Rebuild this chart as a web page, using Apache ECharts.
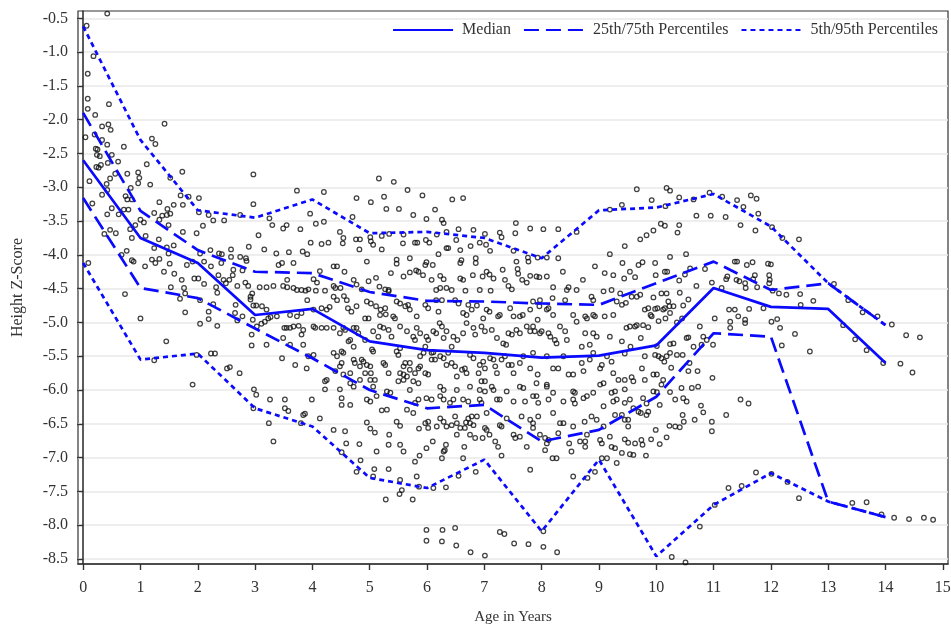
<!DOCTYPE html>
<html>
<head>
<meta charset="utf-8">
<script src="https://cdn.jsdelivr.net/npm/echarts@6/dist/echarts.min.js"></script>
<style>
html, body { margin: 0; padding: 0; background: #fff; }
#chart { width: 951px; height: 626px; }
</style>
</head>
<body>
<div id="chart"></div>
<script>
// percentile curves, one value per whole year of age
const ages = [0, 1, 2, 3, 4, 5, 6, 7, 8, 9, 10, 11, 12, 13, 14];
const median = [-2.60, -3.75, -4.12, -4.89, -4.80, -5.28, -5.41, -5.45, -5.52, -5.49, -5.34, -4.49, -4.77, -4.80, -5.60];
const p75 = [-1.90, -3.35, -3.93, -4.25, -4.27, -4.55, -4.68, -4.69, -4.72, -4.74, -4.42, -4.10, -4.52, -4.42, -5.04];
const p25 = [-3.16, -4.49, -4.64, -5.09, -5.53, -6.00, -6.27, -6.22, -6.76, -6.59, -6.10, -5.16, -5.21, -7.65, -7.88];
const p95 = [-0.62, -2.30, -3.34, -3.45, -3.18, -3.68, -3.66, -3.75, -4.05, -3.34, -3.30, -3.10, -3.58, -4.42, -5.04];
const p5 = [-4.12, -5.55, -5.46, -6.27, -6.54, -7.30, -7.45, -7.03, -8.09, -7.03, -8.46, -7.70, -7.23, -7.65, -7.88];

const xTicks = [0, 1, 2, 3, 4, 5, 6, 7, 8, 9, 10, 11, 12, 13, 14, 15];
const yTicks = [-8.5, -8.0, -7.5, -7.0, -6.5, -6.0, -5.5, -5.0, -4.5, -4.0, -3.5, -3.0, -2.5, -2.0, -1.5, -1.0, -0.5];

// individual children [age, z-score]
const pts0to2 = [
  [0.42,-0.43],[0.06,-0.61],[0.18,-1.06],[0.08,-1.32],[0.08,-1.69],[0.08,-1.84],[0.21,-1.93],[0.45,-1.77],
  [0.33,-2.10],[0.44,-2.07],[0.48,-2.15],[0.04,-2.26],[0.20,-2.22],[0.33,-2.30],[0.42,-2.37],[0.22,-2.43],
  [0.25,-2.44],[0.24,-2.52],[0.29,-2.54],[0.50,-2.52],[0.71,-2.40],[1.20,-2.28],[1.26,-2.36],[1.42,-2.06],
  [0.23,-2.70],[0.27,-2.71],[0.31,-2.67],[0.43,-2.64],[0.61,-2.62],[1.11,-2.66],[1.73,-2.77],[0.11,-2.91],
  [0.41,-2.95],[0.47,-2.87],[0.56,-2.80],[0.77,-2.80],[0.96,-2.78],[0.98,-2.86],[0.96,-2.94],[1.17,-2.96],
  [0.33,-3.11],[0.42,-3.04],[0.83,-3.01],[0.74,-3.13],[0.77,-3.18],[0.85,-3.18],[1.33,-3.22],[1.47,-3.32],
  [1.58,-3.26],[1.74,-3.26],[1.84,-3.14],[1.52,-2.86],[1.70,-3.12],[0.16,-3.24],[0.50,-3.31],[0.71,-3.33],
  [0.79,-3.33],[0.42,-3.40],[0.62,-3.40],[0.82,-3.62],[0.91,-3.56],[0.85,-3.75],[0.37,-3.69],[0.47,-3.63],
  [0.57,-3.68],[1.00,-3.48],[1.06,-3.52],[1.09,-3.72],[1.24,-3.38],[1.33,-3.48],[1.38,-3.42],[1.46,-3.41],
  [1.52,-3.39],[1.49,-3.56],[1.74,-3.66],[1.98,-3.68],[0.76,-3.94],[0.67,-4.00],[0.85,-4.08],[0.88,-4.10],
  [1.08,-4.17],[1.20,-4.07],[1.26,-4.12],[1.33,-4.06],[1.24,-3.90],[1.32,-3.77],[1.46,-3.89],[1.58,-3.86],
  [1.49,-3.98],[1.51,-4.13],[1.41,-4.25],[1.59,-4.28],[1.53,-4.48],[1.72,-4.37],[1.76,-4.49],[1.78,-4.57],
  [1.69,-4.65],[1.78,-4.85],[1.94,-4.35],[1.81,-4.15],[1.91,-4.10],[0.73,-4.58],[1.00,-4.94],[1.45,-5.28],
  [1.24,-5.56],[1.98,-5.48],[1.91,-5.92],[0.09,-4.12]
];
const pts2to4 = [
  [2.02,-3.16],[2.97,-3.25],[3.73,-3.05],[2.97,-2.81],[2.09,-3.57],[2.02,-3.37],[2.19,-3.41],[2.27,-3.49],
  [2.46,-3.49],[2.74,-3.41],[3.06,-3.71],[3.25,-3.46],[3.30,-3.56],[3.49,-3.61],[3.55,-3.56],[2.89,-3.88],
  [3.16,-3.92],[3.37,-3.98],[3.59,-3.96],[2.01,-4.35],[2.04,-3.98],[2.11,-4.10],[2.22,-3.93],[2.23,-4.17],
  [2.37,-3.98],[2.42,-3.99],[2.41,-4.12],[2.36,-4.30],[2.45,-4.37],[2.49,-4.42],[2.32,-4.48],[2.11,-4.43],
  [2.34,-4.56],[2.04,-4.67],[2.19,-4.84],[2.19,-4.95],[2.34,-5.05],[2.04,-5.02],[2.27,-4.73],[2.55,-4.37],
  [2.58,-3.92],[2.58,-4.03],[2.62,-4.22],[2.61,-4.30],[2.69,-4.46],[2.66,-4.74],[2.65,-4.86],[2.78,-4.91],
  [2.69,-4.97],[2.74,-4.03],[2.84,-4.05],[2.85,-4.09],[2.78,-4.23],[2.83,-4.41],[2.88,-4.46],[2.95,-4.57],
  [2.92,-4.62],[2.97,-4.75],[3.02,-4.75],[3.12,-4.76],[2.92,-4.66],[2.96,-4.96],[3.03,-5.06],[3.11,-5.02],
  [3.17,-4.99],[3.23,-4.94],[3.27,-4.92],[3.38,-4.91],[3.20,-4.81],[2.94,-5.18],[2.94,-5.34],[3.20,-5.33],
  [3.32,-4.46],[3.20,-4.48],[3.08,-4.48],[3.49,-4.46],[3.56,-4.48],[3.67,-4.49],[3.73,-4.52],[3.47,-4.12],
  [3.67,-4.12],[3.41,-4.15],[3.56,-4.37],[3.61,-4.89],[3.73,-4.91],[3.51,-5.08],[3.55,-5.08],[3.61,-5.08],
  [3.67,-5.06],[3.76,-5.05],[3.49,-5.23],[3.61,-5.33],[3.70,-5.63],[3.47,-5.53],[2.23,-5.46],[2.30,-5.46],
  [2.51,-5.68],[2.56,-5.66],[2.73,-5.75],[2.98,-5.99],[3.02,-6.07],[3.26,-6.14],[3.52,-6.14],[2.97,-6.27],
  [3.52,-6.27],[3.24,-6.49],[3.32,-6.76],[3.80,-6.49],[3.58,-6.31],
  [3.96,-3.39],[4.06,-3.54],[4.20,-3.51],[3.79,-3.62],[3.83,-3.95],[3.91,-3.99],[3.97,-3.82],[4.13,-4.24],
  [4.02,-4.36],[4.08,-4.41],[3.93,-4.51],[3.88,-4.53],[3.81,-4.52],[3.91,-4.67],[3.81,-4.86],[4.02,-4.81],
  [4.02,-5.06],[4.05,-5.08],[3.84,-5.11],[3.81,-5.18],[3.84,-5.33],[3.93,-5.50],[4.02,-5.48],[3.90,-5.68],
  [3.99,-6.14],[3.84,-6.37],[3.87,-6.35],[4.20,-3.07]
];
const pts4to6 = [
  [5.16,-2.87],[5.42,-2.92],[4.77,-3.16],[5.02,-3.22],[5.25,-3.14],[5.66,-3.04],[5.92,-3.12],[5.29,-3.32],
  [5.51,-3.32],[5.76,-3.41],[5.99,-3.47],[4.70,-3.44],[4.48,-3.66],[4.54,-3.75],[4.53,-3.83],[4.76,-3.77],
  [4.83,-3.77],[5.01,-3.74],[5.02,-3.80],[5.21,-3.72],[5.34,-3.69],[5.59,-3.70],[5.79,-3.82],[5.83,-3.82],
  [5.98,-3.78],[4.16,-3.84],[4.28,-3.82],[4.82,-3.92],[4.95,-4.10],[5.21,-3.92],[5.06,-3.85],[5.47,-4.07],
  [5.47,-4.13],[5.58,-3.83],[5.70,-4.05],[5.99,-4.11],[5.97,-4.15],[4.37,-4.17],[4.43,-4.17],[4.56,-4.25],
  [4.06,-4.53],[4.22,-4.53],[4.37,-4.46],[4.40,-4.49],[4.49,-4.49],[4.72,-4.37],[4.77,-4.44],[4.86,-4.51],
  [4.98,-4.39],[5.11,-4.34],[5.27,-4.51],[5.33,-4.52],[5.17,-4.47],[5.37,-4.27],[5.59,-4.32],[5.70,-4.26],
  [5.81,-4.23],[5.85,-4.25],[5.93,-4.30],[4.16,-4.79],[4.25,-4.81],[4.30,-4.77],[4.37,-4.62],[4.43,-4.67],
  [4.55,-4.61],[4.60,-4.67],[4.62,-4.79],[4.68,-4.84],[4.77,-4.76],[4.92,-4.94],[4.98,-4.94],[4.95,-4.69],
  [5.02,-4.72],[5.19,-4.81],[5.27,-4.79],[5.18,-4.89],[5.28,-4.88],[5.11,-4.76],[5.33,-4.54],[5.47,-4.69],
  [5.53,-4.72],[5.62,-4.76],[5.67,-4.74],[5.41,-4.91],[5.44,-4.94],[5.70,-4.81],[5.82,-4.91],[5.97,-4.74],
  [5.99,-5.21],[5.97,-5.36],[5.88,-5.16],[5.82,-5.08],[5.76,-5.21],[5.79,-5.26],[5.65,-5.13],[5.53,-5.06],
  [5.38,-5.21],[5.33,-5.11],[5.18,-5.06],[5.24,-5.08],[5.15,-5.21],[5.06,-5.13],[5.04,-5.40],[5.06,-5.43],
  [4.92,-5.26],[4.80,-5.16],[4.72,-5.08],[4.77,-5.08],[4.66,-5.26],[4.63,-5.28],[4.54,-5.08],[4.57,-5.11],
  [4.48,-5.16],[4.37,-5.08],[4.25,-5.08],[4.16,-5.08],[4.22,-5.87],[4.25,-5.85],[4.22,-5.99],[4.37,-5.45],
  [4.43,-5.50],[4.51,-5.43],[4.54,-5.45],[4.40,-5.72],[4.51,-5.60],[4.48,-5.65],[4.54,-5.77],[4.66,-5.75],
  [4.72,-5.55],[4.74,-5.60],[4.72,-5.36],[4.86,-5.55],[4.89,-5.58],[4.83,-5.65],[4.95,-5.63],[5.01,-5.65],
  [4.92,-5.75],[5.02,-5.75],[5.09,-5.85],[5.24,-5.60],[5.27,-5.63],[5.33,-5.75],[5.47,-5.43],[5.50,-5.48],
  [5.53,-5.38],[5.59,-5.65],[5.62,-5.60],[5.53,-5.75],[5.59,-5.77],[5.65,-5.80],[5.70,-5.60],[5.70,-5.70],
  [5.85,-5.68],[5.88,-5.65],[5.79,-5.75],[5.76,-5.87],[5.85,-5.90],[5.97,-5.75],[5.88,-5.50],[5.94,-5.45],
  [5.01,-5.85],[5.06,-5.95],[4.83,-5.85],[4.66,-5.90],[4.72,-5.95],[4.48,-5.99],[4.51,-6.12],[4.51,-6.22],
  [4.66,-6.22],[4.95,-6.14],[5.01,-6.17],[5.12,-6.09],[5.30,-6.02],[5.36,-6.04],[5.50,-5.87],[5.59,-5.85],
  [5.70,-6.00],[5.85,-6.14],[5.79,-6.19],[5.99,-6.12],
  [4.13,-6.42],[4.37,-6.59],[4.57,-6.61],[4.59,-6.79],[4.51,-6.92],[4.82,-6.80],[4.84,-7.04],[4.77,-7.21],
  [4.95,-6.48],[5.01,-6.57],[5.09,-6.63],[5.12,-6.91],[5.08,-7.17],[5.06,-7.28],[5.21,-6.30],[5.30,-6.29],
  [5.34,-6.66],[5.33,-6.81],[5.33,-7.17],[5.28,-7.62],[5.47,-6.47],[5.53,-6.53],[5.53,-6.81],[5.59,-6.91],
  [5.53,-7.33],[5.56,-7.48],[5.52,-7.54],[5.75,-7.62],[5.79,-7.06],[5.82,-7.28],[5.87,-6.97],[5.86,-7.43],
  [5.65,-6.29],[5.76,-6.34],[5.86,-6.57],[5.97,-6.49],[5.99,-6.86],[5.99,-8.07],[5.99,-8.23]
];
const pts6to8 = [
  [6.44,-3.18],[6.63,-3.16],[6.14,-3.33],[6.26,-3.48],[6.29,-3.53],[6.04,-3.82],[6.17,-3.70],[6.34,-3.66],
  [6.51,-3.78],[6.55,-3.62],[6.81,-3.63],[7.01,-3.69],[7.27,-3.67],[7.30,-3.74],[7.55,-3.53],[7.54,-3.68],
  [7.80,-3.61],[6.10,-4.15],[6.20,-3.99],[6.34,-3.90],[6.37,-3.90],[6.58,-3.93],[6.60,-4.08],[6.58,-4.12],
  [6.76,-3.87],[6.92,-3.82],[7.10,-3.94],[7.03,-3.85],[6.85,-4.05],[6.85,-4.12],[7.51,-3.94],[7.56,-4.10],
  [7.76,-4.04],[7.77,-4.10],[7.93,-4.04],[6.08,-4.37],[6.23,-4.31],[6.29,-4.36],[6.16,-4.52],[6.23,-4.49],
  [6.34,-4.49],[6.43,-4.52],[6.58,-4.35],[6.63,-4.37],[6.67,-4.53],[6.80,-4.30],[6.92,-4.52],[6.97,-4.32],
  [7.04,-4.25],[7.09,-4.29],[7.16,-4.35],[7.11,-4.53],[7.32,-4.22],[7.36,-4.37],[7.42,-4.46],[7.48,-4.51],
  [7.58,-4.21],[7.59,-4.28],[7.66,-4.37],[7.74,-4.41],[7.80,-4.31],[7.91,-4.32],[7.96,-4.33],[6.02,-4.79],
  [6.20,-4.84],[6.16,-4.67],[6.26,-4.67],[6.49,-4.67],[6.55,-4.72],[6.63,-4.86],[6.69,-4.89],[6.72,-4.74],
  [6.78,-4.81],[6.87,-4.75],[6.98,-4.94],[7.04,-4.81],[7.09,-4.84],[7.24,-4.91],[7.27,-4.89],[7.45,-4.79],
  [7.51,-4.91],[7.62,-4.91],[7.67,-4.89],[7.80,-4.81],[7.85,-4.69],[7.97,-4.67],[7.96,-4.76],[7.93,-4.96],
  [7.97,-5.16],[7.88,-5.13],[7.85,-5.06],[7.74,-5.06],[7.80,-5.13],[7.56,-5.11],[7.62,-5.16],[7.42,-5.16],
  [7.48,-5.18],[7.33,-5.31],[7.38,-5.33],[7.22,-5.23],[7.13,-5.11],[7.01,-5.13],[6.95,-5.06],[6.84,-5.18],
  [6.81,-5.08],[6.69,-5.01],[6.63,-5.16],[6.53,-5.26],[6.46,-5.21],[6.43,-5.36],[6.34,-5.13],[6.29,-5.23],
  [6.22,-5.01],[6.26,-5.06],[6.11,-5.13],[6.16,-5.16],[6.08,-5.45],[6.11,-5.44],[6.02,-5.26],[6.02,-5.77],
  [6.08,-5.55],[6.14,-5.55],[6.23,-5.50],[6.29,-5.53],[6.37,-5.45],[6.34,-5.63],[6.43,-5.60],[6.49,-5.65],
  [6.52,-5.80],[6.61,-5.70],[6.66,-5.68],[6.69,-5.75],[6.75,-5.48],[6.81,-5.53],[6.92,-5.63],[6.98,-5.58],
  [6.90,-5.75],[7.01,-5.68],[6.95,-5.87],[7.01,-5.87],[7.10,-5.53],[7.16,-5.55],[7.19,-5.65],[7.22,-5.75],
  [7.36,-5.50],[7.30,-5.55],[7.42,-5.63],[7.48,-5.63],[7.51,-5.75],[7.62,-5.60],[7.68,-5.50],[7.85,-5.45],
  [7.80,-5.68],[7.93,-5.77],[7.91,-5.90],[6.23,-5.95],[6.29,-6.00],[6.52,-6.00],[6.75,-5.95],[6.92,-6.00],
  [7.01,-6.02],[7.13,-5.95],[7.16,-6.00],[7.39,-6.02],[7.62,-5.95],[7.68,-5.97],[7.85,-6.09],[7.91,-6.09],
  [6.08,-6.14],[6.23,-6.09],[6.29,-6.14],[6.40,-6.19],[6.46,-6.14],[6.63,-6.14],[6.72,-6.17],[6.92,-6.14],
  [6.95,-6.19],[7.22,-6.14],[7.27,-6.14],[7.51,-6.17],[7.71,-6.17],[7.94,-6.19],
  [6.02,-6.47],[6.02,-6.56],[6.10,-6.76],[6.11,-7.45],[6.17,-6.54],[6.23,-6.42],[6.29,-6.47],[6.26,-7.01],
  [6.29,-6.91],[6.31,-6.89],[6.33,-6.81],[6.34,-6.54],[6.43,-6.52],[6.33,-7.44],[6.49,-6.39],[6.52,-6.49],
  [6.52,-6.66],[6.55,-7.27],[6.63,-7.01],[6.65,-6.84],[6.58,-6.56],[6.66,-6.56],[6.68,-6.48],[6.75,-6.49],
  [6.81,-6.52],[6.72,-6.42],[6.78,-6.39],[6.75,-6.66],[6.84,-6.71],[6.85,-7.21],[6.87,-6.39],[7.01,-6.56],
  [7.04,-6.59],[6.97,-6.71],[7.04,-6.34],[7.09,-6.66],[7.19,-6.76],[7.24,-6.84],[7.27,-6.52],[7.30,-6.54],
  [7.30,-6.97],[7.39,-6.42],[7.51,-6.66],[7.54,-6.71],[7.62,-6.69],[7.65,-6.39],[7.74,-6.84],[7.80,-7.18],
  [7.80,-6.44],[7.85,-6.49],[7.85,-6.56],[7.94,-6.39],[7.97,-6.66],[6.27,-8.07],[6.26,-8.24],[6.49,-8.04],
  [6.51,-8.30],[6.76,-8.40],[7.01,-8.45],[7.27,-8.10],[7.35,-8.13],[7.52,-8.27],[7.77,-8.28]
];
const pts8to10 = [
  [8.03,-3.62],[8.29,-3.62],[8.61,-3.66],[9.19,-3.33],[9.19,-3.99],[8.09,-4.04],[8.29,-4.05],[8.37,-4.25],
  [8.93,-4.17],[9.10,-4.27],[9.25,-4.30],[8.09,-4.32],[8.20,-4.48],[8.19,-4.64],[8.44,-4.52],[8.47,-4.48],
  [8.72,-4.37],[8.61,-4.52],[8.87,-4.62],[8.90,-4.67],[9.08,-4.54],[9.22,-4.52],[8.09,-4.81],[8.12,-4.79],
  [8.20,-4.89],[8.32,-5.06],[8.41,-4.67],[8.55,-4.89],[8.61,-4.99],[8.76,-4.91],[8.79,-4.94],[8.90,-4.89],
  [8.93,-4.91],[9.10,-4.91],[9.25,-4.89],[9.31,-4.69],[9.19,-5.21],[8.76,-5.16],[8.90,-5.16],[8.96,-5.21],
  [8.70,-5.36],[8.84,-5.33],[8.41,-5.13],[8.44,-5.26],[8.23,-5.26],[8.26,-5.31],[8.12,-5.16],[8.15,-5.21],
  [8.00,-5.13],[8.09,-5.50],[8.09,-5.92],[8.20,-5.68],[8.29,-5.68],[8.38,-5.50],[8.47,-5.77],[8.55,-5.77],
  [8.70,-5.60],[8.73,-5.72],[8.84,-5.55],[8.90,-5.45],[9.05,-5.63],[9.02,-5.68],[9.14,-5.50],[9.22,-5.58],
  [9.25,-5.75],[9.34,-5.85],[9.08,-5.90],[9.22,-6.04],[9.28,-6.02],[8.09,-5.95],[8.20,-6.04],[8.55,-6.02],
  [8.58,-6.04],[8.79,-6.09],[8.90,-6.04],[9.02,-5.92],[8.12,-6.14],[8.38,-6.17],[8.55,-6.14],[8.58,-6.20],
  [8.73,-6.12],[9.08,-6.24],[9.25,-6.17],[9.31,-6.14],[9.45,-6.19],[9.60,-6.27],
  [8.06,-6.71],[8.09,-6.79],[8.06,-6.89],[8.12,-6.74],[8.19,-7.01],[8.26,-7.01],[8.29,-6.64],[8.20,-6.34],
  [8.32,-6.49],[8.38,-6.49],[8.48,-6.79],[8.52,-6.91],[8.55,-6.54],[8.55,-7.28],[8.67,-6.76],[8.76,-6.76],
  [8.76,-6.84],[8.75,-6.47],[8.79,-6.66],[8.80,-7.30],[8.87,-6.39],[8.96,-6.44],[8.93,-7.21],[9.02,-6.74],
  [9.05,-6.79],[9.08,-6.54],[9.14,-7.01],[9.05,-7.01],[9.19,-6.69],[9.22,-6.84],[9.28,-6.86],[9.31,-7.08],
  [9.28,-6.37],[8.03,-8.09],[8.03,-8.32],[8.27,-8.40],
  [9.66,-3.03],[9.40,-3.26],[9.92,-3.19],[9.72,-3.77],[9.95,-3.64],[9.83,-3.71],[9.45,-3.87],[9.41,-4.12],
  [9.44,-4.35],[9.54,-4.25],[9.63,-4.33],[9.69,-4.15],[9.76,-4.11],[9.98,-4.12],[9.99,-4.30],[9.95,-4.63],
  [9.72,-4.59],[9.66,-4.62],[9.57,-4.62],[9.47,-4.71],[9.40,-4.74],[9.37,-4.57],[9.80,-4.81],[9.86,-4.79],
  [9.90,-4.89],[9.92,-4.91],[9.98,-4.80],[9.80,-5.50],[9.73,-5.23],[9.86,-5.07],[9.77,-5.04],[9.66,-5.04],
  [9.63,-5.06],[9.48,-5.08],[9.54,-5.06],[9.40,-5.28],[9.55,-5.36],[9.45,-5.46],[9.98,-5.48],[9.45,-5.85],
  [9.57,-5.81],[9.60,-5.87],[9.75,-5.68],[9.80,-5.85],[9.95,-5.77],[9.45,-5.99],[9.54,-6.14],[9.77,-6.12],
  [9.95,-6.02],[9.83,-6.20],[9.45,-6.44],[9.51,-6.44],[9.51,-6.54],[9.40,-6.37],[9.69,-6.32],[9.73,-6.34],
  [9.83,-6.37],[9.86,-6.32],[9.45,-6.73],[9.51,-6.78],[9.63,-6.79],[9.74,-6.74],[9.76,-6.81],[9.91,-6.73],
  [9.40,-6.93],[9.54,-6.95],[9.60,-6.96],[9.82,-6.97],[9.99,-6.59]
];
const pts10to15 = [
  [10.18,-3.01],[10.24,-3.05],[10.40,-3.15],[10.65,-3.18],[10.93,-3.08],[11.15,-3.14],[11.41,-3.19],[11.52,-3.29],
  [11.65,-3.12],[11.75,-3.17],[10.16,-3.28],[10.70,-3.42],[10.95,-3.42],[11.21,-3.44],[11.47,-3.56],[11.78,-3.39],
  [11.73,-3.64],[12.20,-3.75],[12.49,-3.77],[12.02,-3.59],[10.08,-3.54],[10.15,-3.57],[10.40,-3.56],[10.37,-3.67],
  [10.15,-4.25],[10.19,-4.25],[10.24,-4.03],[10.52,-3.99],[10.50,-4.29],[10.40,-4.38],[10.59,-4.20],[10.85,-4.21],
  [10.70,-4.46],[10.41,-4.56],[10.56,-4.66],[10.47,-4.75],[10.30,-4.76],[10.21,-4.69],[10.09,-4.57],[10.18,-4.57],
  [10.02,-4.79],[10.04,-4.98],[10.12,-4.81],[10.15,-4.79],[10.23,-4.76],[10.24,-4.86],[10.16,-4.94],[10.36,-5.00],
  [10.45,-4.94],[10.53,-5.23],[10.56,-5.22],[10.24,-5.32],[10.30,-5.31],[10.01,-5.35],[10.04,-5.50],[10.09,-5.53],
  [10.18,-5.50],[10.14,-5.58],[10.24,-5.45],[10.36,-5.48],[10.46,-5.48],[10.26,-5.67],[10.58,-5.60],[10.65,-5.36],
  [10.79,-5.33],[10.76,-5.06],[10.72,-5.72],[10.56,-5.72],[10.82,-5.21],[10.88,-5.26],[10.99,-5.33],[11.02,-4.94],
  [10.97,-4.41],[11.14,-4.49],[11.22,-4.36],[11.24,-4.32],[11.27,-4.81],[11.37,-4.81],[11.29,-4.99],[11.29,-5.08],
  [11.37,-4.10],[11.41,-4.10],[11.40,-4.37],[11.45,-4.39],[11.58,-4.15],[11.68,-4.11],[11.55,-4.42],[11.56,-4.49],
  [11.43,-4.91],[11.55,-4.96],[11.55,-5.01],[11.62,-4.80],[11.72,-4.30],[11.69,-4.36],[11.76,-4.48],[11.95,-4.13],
  [12.00,-4.14],[11.97,-4.30],[11.98,-4.37],[11.97,-4.42],[11.87,-4.79],[12.01,-4.99],[12.11,-4.95],[12.16,-5.08],
  [12.19,-5.34],[12.03,-4.53],[12.14,-4.57],[12.27,-4.59],[12.42,-5.17],[12.51,-4.58],[12.52,-4.74],[12.68,-5.43],
  [12.74,-4.68],[13.10,-4.43],[13.35,-4.67],[13.60,-4.85],[13.86,-4.91],[14.11,-5.03],[13.26,-5.04],[13.47,-5.25],
  [13.67,-5.41],[13.96,-5.60],[14.26,-5.61],[14.47,-5.74],[14.36,-5.19],[14.60,-5.22],[10.78,-6.23],[11.47,-6.14],
  [11.61,-6.20],[10.98,-5.82],[10.01,-5.77],[10.12,-5.85],[10.09,-5.92],[10.01,-6.03],[10.24,-6.03],[10.33,-6.14],
  [10.44,-5.97],[10.47,-6.12],[10.53,-6.17],[10.62,-5.97],[10.73,-5.95],[10.06,-6.22],
  [10.06,-6.80],[10.18,-6.70],[10.23,-6.53],[10.33,-6.54],[10.41,-6.55],[10.46,-6.37],[10.48,-6.47],[10.67,-6.44],
  [10.82,-6.33],[10.97,-6.47],[10.97,-6.61],[11.22,-6.37],[10.76,-8.02],[11.02,-7.70],[11.26,-7.45],[11.49,-7.42],
  [11.74,-7.22],[12.01,-7.24],[12.29,-7.36],[12.49,-7.60],[13.42,-7.67],[13.67,-7.66],[13.93,-7.84],[14.15,-7.89],
  [14.41,-7.91],[14.67,-7.89],[14.83,-7.92],[10.27,-8.47],[10.51,-8.55]
];

const points = [].concat(pts0to2, pts2to4, pts4to6, pts6to8, pts8to10, pts10to15);

const serif = '"Liberation Serif", "DejaVu Serif", serif';
const blue = '#0a0aff';

function curve(name, vals, dash) {
    return {
        type: 'line',
        name: name,
        data: ages.map((a, i) => [a, vals[i]]),
        symbol: 'none',
        silent: true,
        z: 3,
        itemStyle: { color: blue },
        lineStyle: { color: blue, width: 2.7, type: dash }
    };
}

const myChart = echarts.init(document.getElementById('chart'));
myChart.setOption({
    animation: false,
    backgroundColor: '#fff',
    grid: {
        left: 78, right: 3, top: 11, bottom: 62,
        outerBoundsMode: 'none',
        show: true, borderColor: '#333', borderWidth: 1.2
    },
    legend: {
        data: ['Median', '25th/75th Percentiles', '5th/95th Percentiles'],
        right: 8, top: 17,
        itemWidth: 60, itemHeight: 12, itemGap: 12,
        itemStyle: { opacity: 0 },
        textStyle: { fontFamily: serif, fontSize: 16, color: '#333', padding: [0, 0, 0, 4] }
    },
    xAxis: {
        type: 'value',
        min: -0.09, max: 15.09,
        name: 'Age in Years',
        nameLocation: 'middle',
        nameGap: 46,
        nameTextStyle: { fontFamily: serif, fontSize: 15, color: '#333' },
        axisLine: { show: true, lineStyle: { color: '#333', width: 1.6 } },
        axisTick: { show: true, customValues: xTicks, length: 6, lineStyle: { color: '#333', width: 1.4 } },
        axisLabel: { customValues: xTicks, margin: 16, fontFamily: serif, fontSize: 16, color: '#333' },
        splitLine: { show: false }
    },
    yAxis: {
        type: 'value',
        min: -8.574, max: -0.392,
        name: 'Height Z-Score',
        nameLocation: 'middle',
        nameGap: 52,
        nameTextStyle: { fontFamily: serif, fontSize: 16, color: '#333' },
        axisLine: { show: true, lineStyle: { color: '#333', width: 1.6 } },
        axisTick: { show: true, customValues: yTicks, length: 6, lineStyle: { color: '#333', width: 1.4 } },
        axisLabel: {
            customValues: yTicks, margin: 10,
            fontFamily: serif, fontSize: 16, color: '#333',
            formatter: v => v.toFixed(1)
        },
        splitLine: { show: true, lineStyle: { color: '#e8e8e8', width: 1.5 } }
    },
    series: [
        {
            type: 'scatter',
            name: 'Observed',
            data: points,
            symbol: 'circle',
            symbolSize: 4.6,
            silent: true,
            z: 2,
            itemStyle: { color: 'rgba(0,0,0,0)', borderColor: '#111', borderWidth: 1.25 }
        },
        curve('5th/95th Percentiles', p95, [5, 4]),
        curve('5th/95th Percentiles', p5, [5, 4]),
        curve('25th/75th Percentiles', p75, [15, 7]),
        curve('25th/75th Percentiles', p25, [15, 7]),
        curve('Median', median, 'solid')
    ]
});
</script>
</body>
</html>
